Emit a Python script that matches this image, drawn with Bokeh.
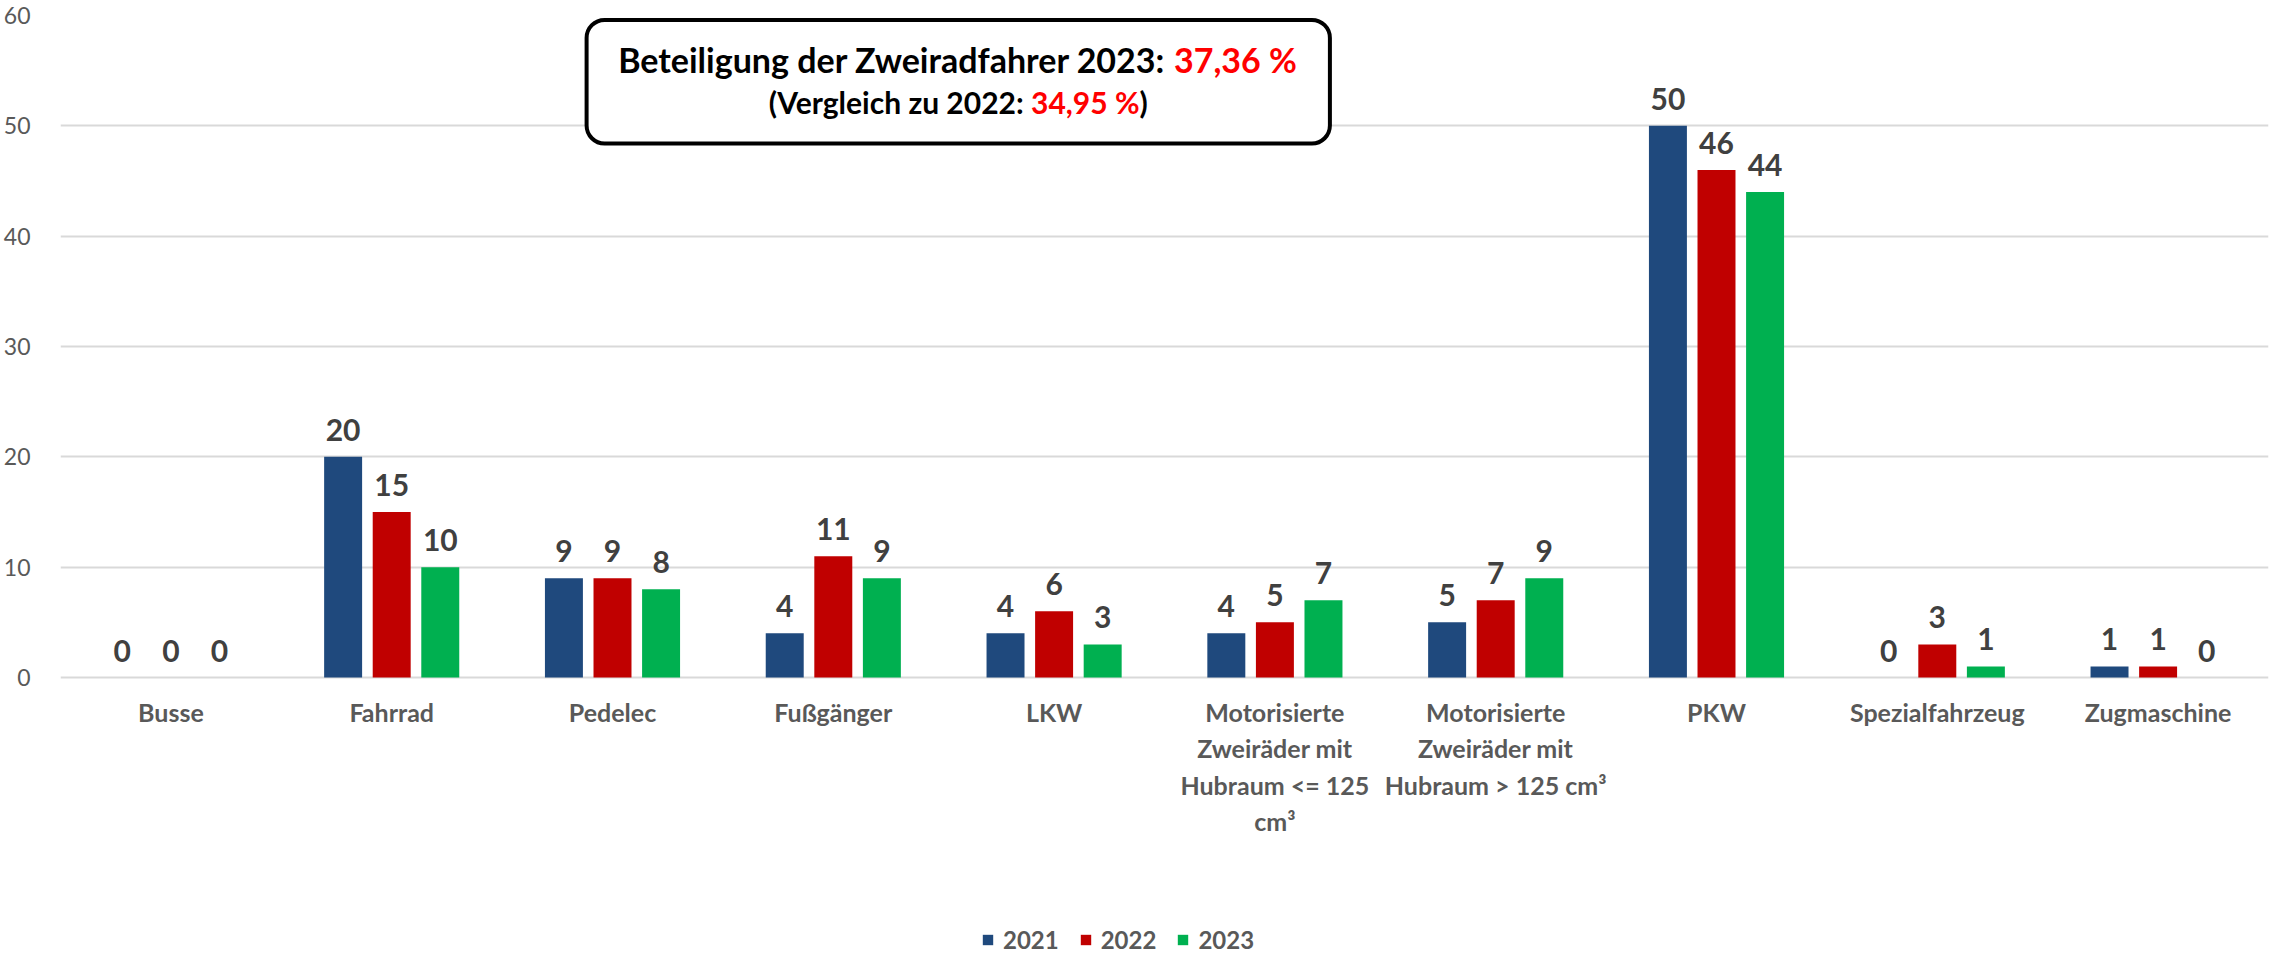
from bokeh.plotting import figure
from bokeh.models import (FactorRange, Range1d, FixedTicker, BoxAnnotation, Label,
                          ColumnDataSource, Legend, LegendItem)
from bokeh.transform import dodge
from bokeh.core.properties import value
from bokeh.embed import file_html
from bokeh.resources import INLINE

# ---------------- data ----------------
categories = ["Busse", "Fahrrad", "Pedelec", "Fußgänger", "LKW",
              "Motorisierte\nZweiräder mit\nHubraum <= 125\ncm³",
              "Motorisierte\nZweiräder mit\nHubraum > 125 cm³",
              "PKW", "Spezialfahrzeug", "Zugmaschine"]
years = ["2021", "2022", "2023"]
v2021 = [0, 20, 9, 4, 4, 4, 5, 50, 0, 1]
v2022 = [0, 15, 9, 11, 6, 5, 7, 46, 3, 1]
v2023 = [0, 10, 8, 9, 3, 7, 9, 44, 1, 0]
y_ticks = [0, 10, 20, 30, 40, 50, 60]
title_line1 = ("Beteiligung der Zweiradfahrer 2023: ", "37,36 %")
title_line2 = ("(Vergleich zu 2022: ", "34,95 %", ")")

colors = ["#1F497D", "#C00000", "#00B050"]
FONT = "Lato"

src = ColumnDataSource(dict(
    cat=categories,
    v2021=v2021, v2022=v2022, v2023=v2023,
    l2021=[str(v) for v in v2021],
    l2022=[str(v) for v in v2022],
    l2023=[str(v) for v in v2023],
))

# ---------------- layout (pixels) ----------------
W, H = 2272, 955
LEFT, RIGHT, TOP = 52, 4, 15
ZERO_PX = 677                 # figure-pixel row of the value 0
Y_MAX = 60
px_per_unit = (ZERO_PX - TOP) / Y_MAX
y_min = -(H - ZERO_PX) / px_per_unit   # frame extends below 0 for labels/legend

p = figure(x_range=FactorRange(factors=categories, range_padding=0),
           y_range=Range1d(y_min, Y_MAX),
           width=W, height=H, output_backend="svg", toolbar_location=None,
           min_border_left=LEFT, min_border_right=RIGHT, min_border_top=TOP,
           min_border_bottom=0)
p.outline_line_color = None
p.background_fill_color = "white"
p.border_fill_color = "white"

# grid
p.xgrid.grid_line_color = None
p.ygrid.grid_line_color = "#D9D9D9"
p.ygrid.grid_line_width = 2

# axes
p.yaxis.ticker = FixedTicker(ticks=y_ticks)
p.yaxis.axis_line_color = None
p.yaxis.major_tick_line_color = None
p.yaxis.minor_tick_line_color = None
p.yaxis.major_label_text_font = FONT
p.yaxis.major_label_text_font_size = "23px"
p.yaxis.major_label_text_color = "#595959"
p.yaxis.major_label_standoff = 24
p.xaxis.visible = False

# category labels under the zero line
p.text(x="cat", y=0, text="cat", source=src, text_align="center",
       text_baseline="top", y_offset=19, text_font=value(FONT),
       text_font_style="bold", text_font_size="25px", text_color="#595959",
       text_line_height=1.22)

# bars
offsets = [-0.22, 0.0, 0.22]
bw = 0.172
renderers = []
for yr, off, col in zip(years, offsets, colors):
    r = p.vbar(x=dodge("cat", off, range=p.x_range), top="v" + yr, width=bw,
               source=src, fill_color=col, line_color=None)
    renderers.append(r)
    p.text(x=dodge("cat", off, range=p.x_range), y="v" + yr, text="l" + yr,
           source=src, text_align="center", text_baseline="alphabetic",
           y_offset=-27, text_font=value(FONT), text_font_style="bold",
           text_font_size="30px", text_color="#404040")

legend = Legend(items=[LegendItem(label=yr, renderers=[r]) for yr, r in zip(years, renderers)],
                orientation="horizontal", location=(921, 1),
                label_text_font=FONT, label_text_font_size="24px",
                label_text_font_style="bold", label_text_color="#595959",
                glyph_width=13, glyph_height=13, label_standoff=9, spacing=20,
                padding=0, margin=0, border_line_color=None,
                background_fill_alpha=0)
p.add_layout(legend, "center")

# info box
frame_w = W - LEFT - RIGHT
px_per_cat = frame_w / len(categories)
box_left = (588 - 60) / px_per_cat
box_right = (1334 - 60) / px_per_cat
box = BoxAnnotation(left=box_left, right=box_right, bottom=48.4, top=59.6,
                    fill_color="white", fill_alpha=1.0, line_color="black",
                    line_alpha=1.0, line_width=4, border_radius=18, level="annotation")
p.add_layout(box)
cx = (box_left + box_right) / 2


def char_w(s, size):
    # rough Lato bold width estimate
    narrow = set("il.,:;!|'() ")
    wide = set("MWmw%")
    tot = 0
    for ch in s:
        if ch in narrow:
            tot += 0.30
        elif ch in wide:
            tot += 0.85
        elif ch.isupper():
            tot += 0.64
        elif ch.isdigit():
            tot += 0.58
        else:
            tot += 0.53
    return tot * size

try:
    import subprocess
    from PIL import ImageFont
    path = subprocess.run(["fc-match", "-f", "%{file}", "Lato:bold"],
                          capture_output=True, text=True).stdout.strip()
    def text_w(s, size, _path=path):
        f = ImageFont.truetype(_path, size)
        return f.getlength(s)
    text_w("x", 20)
except Exception:
    text_w = char_w

s1 = 34
s2 = 30
w1a = text_w(title_line1[0], s1)
w1b = text_w(title_line1[1], s1)
split1 = -(w1a + w1b) / 2 + w1a
p.add_layout(Label(x=cx, y=56.0, x_offset=split1, text=title_line1[0], text_align="right",
                   text_baseline="middle", text_font=FONT, text_font_style="bold",
                   text_font_size=f"{s1}px", text_color="black"))
p.add_layout(Label(x=cx, y=56.0, x_offset=split1, text=title_line1[1], text_align="left",
                   text_baseline="middle", text_font=FONT, text_font_style="bold",
                   text_font_size=f"{s1}px", text_color="#FF0000"))

w2a = text_w(title_line2[0], s2)
w2b = text_w(title_line2[1], s2)
w2c = text_w(title_line2[2], s2)
start2 = -(w2a + w2b + w2c) / 2
p.add_layout(Label(x=cx, y=52.2, x_offset=start2, text=title_line2[0], text_align="left",
                   text_baseline="middle", text_font=FONT, text_font_style="bold",
                   text_font_size=f"{s2}px", text_color="black"))
p.add_layout(Label(x=cx, y=52.2, x_offset=start2 + w2a, text=title_line2[1], text_align="left",
                   text_baseline="middle", text_font=FONT, text_font_style="bold",
                   text_font_size=f"{s2}px", text_color="#FF0000"))
p.add_layout(Label(x=cx, y=52.2, x_offset=start2 + w2a + w2b, text=title_line2[2], text_align="left",
                   text_baseline="middle", text_font=FONT, text_font_style="bold",
                   text_font_size=f"{s2}px", text_color="black"))

open("out.html", "w").write(file_html(p, INLINE))
